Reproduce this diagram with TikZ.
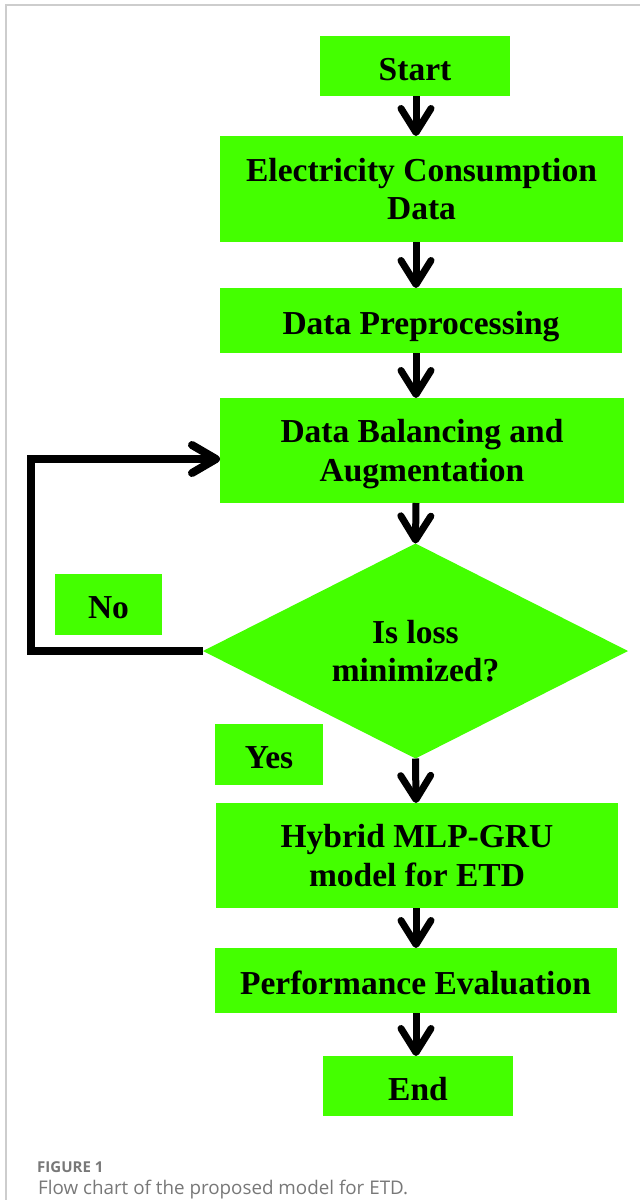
\documentclass[tikz,border=0pt]{standalone}
\usepackage{fontspec}
\setmainfont{Liberation Serif}
\newfontfamily\capfont{Open Sans}
\usetikzlibrary{arrows.meta,shapes.geometric}
\definecolor{boxgreen}{RGB}{68,255,0}
\definecolor{capgray}{RGB}{120,120,120}
\definecolor{framegray}{RGB}{205,205,205}
\tikzset{
  box/.style={rectangle, fill=boxgreen, draw=none, inner sep=0pt, outer sep=0pt,
    align=center, font=\bfseries\fontsize{33.5}{38.3}\selectfont},
  onebox/.style={box, text height=28pt, text depth=0pt},
  decbox/.style={diamond, aspect=2, fill=boxgreen, draw=none, inner sep=0pt, outer sep=0pt,
    minimum width=425pt, minimum height=215pt,
    align=center, font=\bfseries\fontsize{33.5}{38.3}\selectfont},
  arr/.style={line width=7pt, -{Straight Barb[length=24pt,width=30pt,round]}},
  loopline/.style={line width=8pt, -{Straight Barb[length=24pt,width=28pt,round]}},
}
\begin{document}
\begin{tikzpicture}[x=1pt,y=-1pt]
\useasboundingbox (0,0) rectangle (640,1200);
\fill[white] (0,0) rectangle (640,1200);
\draw[framegray, line width=1.3pt] (6,1200) -- (6,5) -- (640,5);

\node[onebox, minimum width=190pt, minimum height=60pt] (start) at (415,66) {Start};
\node[box, minimum width=403pt, minimum height=106pt] (ecd) at (421.5,189) {Electricity Consumption\\Data};
\node[onebox, minimum width=402pt, minimum height=65pt] (prep) at (421,320.5) {Data Preprocessing};
\node[box, minimum width=404pt, minimum height=105pt] (bal) at (422,450.5) {Data Balancing and\\\smash{Augmentation}};
\node[decbox] (dec) at (415.5,651) {Is loss\\minimized?};
\node[onebox, minimum width=107pt, minimum height=61pt] (no) at (108.5,604) {No};
\node[onebox, minimum width=108pt, minimum height=61pt] (yes) at (269,754.5) {Yes};
\node[box, minimum width=402pt, minimum height=105pt] (hyb) at (417,855.5) {Hybrid MLP-GRU\\model for ETD};
\node[onebox, minimum width=402pt, minimum height=65pt] (perf) at (415.5,980.5) {Performance Evaluation};
\node[onebox, minimum width=190pt, minimum height=60pt] (end) at (418,1086) {End};

\coordinate (ax) at (416,0);
\draw[arr] (ax |- start.south) -- (ax |- ecd.north);
\draw[arr] (ax |- ecd.south) -- (ax |- prep.north);
\draw[arr] (ax |- prep.south) -- (ax |- bal.north);
\draw[arr] (ax |- bal.south) -- (dec.north);
\draw[arr] (dec.south) -- (ax |- hyb.north);
\draw[arr] (ax |- hyb.south) -- (ax |- perf.north);
\draw[arr] (ax |- perf.south) -- (ax |- end.north);

\coordinate (lc) at (31,459);
\draw[loopline] (dec.west) -| (lc) -- (bal.west |- lc);

\node[anchor=base west, inner sep=0pt, text=capgray, font=\capfont\bfseries\fontsize{15}{17}\selectfont] (figlab) at (37,1172) {FIGURE 1};
\node[anchor=base west, inner sep=0pt, text=capgray, font=\capfont\fontsize{18.8}{22}\selectfont] (figcap) at (38,1194) {Flow chart of the proposed model for ETD.};
\end{tikzpicture}
\end{document}
